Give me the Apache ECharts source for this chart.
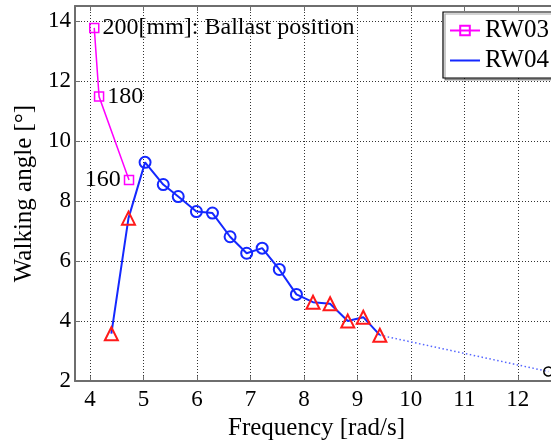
<!DOCTYPE html>
<html><head><meta charset="utf-8">
<script src="https://cdn.jsdelivr.net/npm/echarts@6/dist/echarts.min.js"></script>
<style>html,body{margin:0;padding:0;background:#fff}#c{width:551px;height:446px}</style>
</head><body><div id="c"></div>
<script>
const xTicks = [4, 5, 6, 7, 8, 9, 10, 11, 12];
const yTicks = [2, 4, 6, 8, 10, 12, 14];
const rw03Freq = [4.08, 4.17, 4.73];
const rw03Angle = [13.77, 11.48, 8.70];
const rw03Labels = ['200[mm]: Ballast position', '180', '160'];
const rw04Freq = [4.40, 4.72, 5.03, 5.37, 5.65, 5.99, 6.29, 6.62, 6.93, 7.22, 7.54, 7.86, 8.17, 8.49, 8.82, 9.11, 9.42];
const rw04Angle = [3.58, 7.43, 9.29, 8.55, 8.15, 7.65, 7.60, 6.81, 6.26, 6.43, 5.72, 4.89, 4.63, 4.58, 4.00, 4.13, 3.53];
const rw04Marker = ['triangle', 'triangle', 'circle', 'circle', 'circle', 'circle', 'circle', 'circle', 'circle', 'circle', 'circle', 'circle', 'triangle', 'triangle', 'triangle', 'triangle', 'triangle'];
const extraFreq = [9.42, 12.57];
const extraAngle = [3.53, 2.32];

const FONT = 'Liberation Serif';
const MAG = '#ff00ff', BLUE = '#1428ff', RED = '#ff1a1a', AX = '#6e6e6e';
const grid = { type: [1, 2], color: '#333', width: 1 };

const chart = echarts.init(document.getElementById('c'), null, { renderer: 'canvas' });
chart.setOption({
  animation: false,
  backgroundColor: '#fff',
  grid: { left: 75, top: 6, right: 0, bottom: 58, containLabel: false },
  legend: {
    orient: 'vertical', left: 443, right: -80, top: 12,
    padding: [6, 40, 5, 6], itemWidth: 30, itemHeight: 12, itemGap: 5,
    backgroundColor: '#fff', borderColor: '#000', borderWidth: 1.2,
    shadowColor: 'rgba(0,0,0,0.35)', shadowOffsetX: 2, shadowOffsetY: 2, shadowBlur: 0,
    textStyle: { fontFamily: FONT, fontSize: 25, color: '#000' },
    data: [
      { name: 'RW03' },
      { name: 'RW04', icon: 'path://M0,0L30,0L30,0.01Z M0,5L30,5L30,7L0,7Z M0,12L30,12L30,12.01Z', itemStyle: { color: BLUE, borderWidth: 0 } }
    ]
  },
  xAxis: [{
    type: 'value', min: 3.72, max: 12.62, splitNumber: 9, position: 'bottom',
    axisLine: { show: true, onZero: false, lineStyle: { color: AX, width: 2 } },
    axisTick: { show: true, inside: true, length: 5, customValues: xTicks, lineStyle: { color: AX, width: 1 } },
    axisLabel: { customValues: xTicks, margin: 7, fontFamily: FONT, fontSize: 23, color: '#000' },
    splitLine: { show: true, lineStyle: grid },
    name: 'Frequency [rad/s]', nameLocation: 'middle', nameGap: 30,
    nameTextStyle: { fontFamily: FONT, fontSize: 25, color: '#000', padding: [0, 0, 0, 7] }
  }, {
    type: 'value', min: 3.72, max: 12.62, splitNumber: 9, position: 'top',
    axisLine: { show: true, onZero: false, lineStyle: { color: AX, width: 2 } },
    axisTick: { show: true, inside: true, length: 5, customValues: xTicks, lineStyle: { color: AX, width: 1 } },
    axisLabel: { show: false },
    splitLine: { show: false }
  }],
  yAxis: {
    type: 'value', min: 2, max: 14.5, splitNumber: 6,
    axisLine: { show: true, onZero: false, lineStyle: { color: AX, width: 2 } },
    axisTick: { show: true, inside: true, length: 5, customValues: yTicks, lineStyle: { color: AX, width: 1 } },
    axisLabel: { customValues: yTicks, margin: 4, fontFamily: FONT, fontSize: 23, color: '#000' },
    splitLine: { show: true, lineStyle: grid },
    name: 'Walking angle [°]', nameLocation: 'middle', nameGap: 36,
    nameTextStyle: { fontFamily: FONT, fontSize: 25, color: '#000' }
  },
  series: [{
    name: 'extrap', type: 'line', z: 1,
    data: extraFreq.map((f, i) => ({
      value: [f, extraAngle[i]],
      symbol: i === 0 ? 'none' : 'circle', symbolSize: 9,
      itemStyle: { color: 'rgba(0,0,0,0)', borderColor: '#000', borderWidth: 1.5 }
    })),
    lineStyle: { color: '#5566ff', width: 1.5, type: [1.5, 2.5] },
    emphasis: { disabled: true }
  }, {
    name: 'RW03', type: 'line', z: 3,
    data: rw03Freq.map((f, i) => ({ value: [f, rw03Angle[i]], label: { position: i === 2 ? 'left' : 'right' } })),
    symbol: 'rect', symbolSize: 9,
    itemStyle: { color: 'rgba(0,0,0,0)', borderColor: MAG, borderWidth: 1.5 },
    lineStyle: { color: MAG, width: 1.5 },
    label: { show: true, distance: 3, formatter: p => rw03Labels[p.dataIndex], fontFamily: FONT, fontSize: 24, color: '#000' },
    emphasis: { disabled: true }
  }, {
    name: 'RW04', type: 'line', z: 2,
    data: rw04Freq.map((f, i) => ({
      value: [f, rw04Angle[i]],
      symbol: rw04Marker[i],
      symbolSize: rw04Marker[i] === 'circle' ? 11 : 13,
      itemStyle: { color: 'rgba(0,0,0,0)', borderColor: rw04Marker[i] === 'circle' ? BLUE : RED, borderWidth: 2 }
    })),
    itemStyle: { color: BLUE },
    lineStyle: { color: BLUE, width: 2 },
    emphasis: { disabled: true }
  }]
});
</script></body></html>
